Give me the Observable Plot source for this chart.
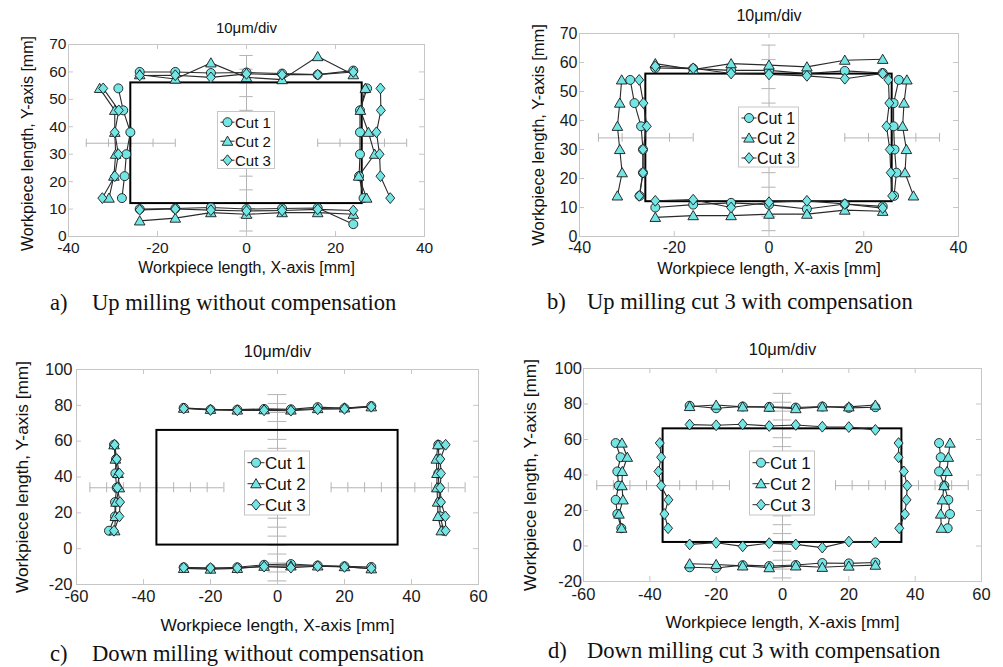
<!DOCTYPE html>
<html><head><meta charset="utf-8">
<script src="https://cdn.jsdelivr.net/npm/d3@7"></script>
<script src="https://cdn.jsdelivr.net/npm/@observablehq/plot@0.6"></script>
<style>
body{margin:0;background:#fff;}
#wrap{position:relative;width:1003px;height:667px;overflow:hidden;background:#fff;font-family:"Liberation Sans",Arial,sans-serif;}
.panel{position:absolute;}
.cap{position:absolute;font-family:"Liberation Serif","Times New Roman",serif;font-size:22.6px;line-height:22px;color:#111;white-space:nowrap;}
</style></head><body><div id="wrap"></div>
<script>
const cuts = ["Cut 1", "Cut 2", "Cut 3"];
const xTopAB = [-24, -16, -8, 0, 8, 16, 24];
const ySideAB = [14, 22, 30, 38, 46, 54];
const xTopCD = [-28, -20, -12, -4, 4, 12, 20, 28];
const ySideCD = [10, 18, 26, 34, 42, 50, 58];

// a) Up milling without compensation  (rows: Cut 1, Cut 2, Cut 3)
const aTop = [[60.0, 60.0, 59.6, 59.8, 59.4, 59.0, 60.5],
              [59.0, 57.4, 63.3, 58.0, 57.2, 65.6, 59.0],
              [58.7, 58.8, 58.0, 59.3, 59.0, 59.0, 60.0]];
const aBottom = [[10.0, 10.2, 10.6, 10.0, 10.2, 10.4, 4.5],
                 [5.7, 6.7, 8.7, 8.1, 8.7, 8.7, 8.1],
                 [9.7, 10.0, 9.6, 9.3, 9.5, 9.9, 9.5]];
const aLeft = [[-28.0, -27.4, -27.0, -26.1, -27.7, -28.8],
               [-30.9, -29.8, -29.4, -29.6, -29.6, -33.0],
               [-32.4, -29.6, -28.8, -29.6, -28.7, -32.2]];
const aRight = [[26.3, 25.3, 25.5, 25.5, 25.5, 27.1],
                [27.0, 25.2, 28.8, 27.4, 25.6, 26.7],
                [32.3, 30.1, 29.9, 29.2, 30.2, 30.1]];

// b) Up milling cut 3 with compensation
const bTop = [[58.1, 57.9, 57.3, 57.3, 56.2, 57.1, 56.4],
              [59.6, 57.6, 59.6, 59.1, 58.5, 60.8, 61.1],
              [58.7, 58.0, 56.2, 55.9, 55.4, 54.4, 56.2]];
const bBottom = [[10.0, 11.0, 11.6, 11.0, 9.5, 11.2, 10.4],
                 [6.6, 7.2, 7.2, 7.7, 7.7, 9.1, 8.7],
                 [12.3, 12.7, 10.0, 11.8, 12.3, 11.2, 9.8]];
const bLeft = [[-27.3, -26.6, -26.6, -27.0, -28.4, -29.3],
               [-32.0, -31.0, -31.5, -32.0, -31.5, -31.1],
               [-27.4, -26.6, -26.6, -25.8, -26.5, -27.4]];
const bRight = [[26.4, 26.9, 26.5, 26.3, 26.3, 27.4],
                [30.5, 28.7, 29.0, 28.2, 28.5, 29.1],
                [26.0, 25.7, 25.5, 24.8, 25.4, 25.2]];

// c) Down milling without compensation
const cTop = [[78.6, 77.6, 77.6, 78.0, 77.8, 79.0, 78.4, 79.6],
              [78.4, 77.8, 77.4, 77.6, 77.4, 78.2, 78.6, 79.2],
              [78.2, 77.4, 77.2, 77.2, 77.0, 77.8, 78.0, 79.2]];
const cBottom = [[-10.4, -11.0, -10.4, -9.0, -8.6, -9.4, -9.8, -10.2],
                 [-11.0, -11.4, -11.0, -9.8, -9.6, -9.6, -10.0, -11.2],
                 [-10.6, -10.8, -10.8, -10.0, -10.6, -9.8, -10.2, -11.0]];
const cLeft = [[-50.3, -48.5, -48.5, -48.0, -48.4, -48.2, -48.8],
               [-48.6, -48.4, -48.2, -47.2, -47.6, -48.4, -48.8],
               [-48.8, -47.2, -47.0, -47.8, -47.2, -48.0, -48.6]];
const cRight = [[49.6, 48.6, 48.4, 48.2, 48.0, 48.2, 48.0],
                [48.9, 47.9, 47.8, 47.6, 47.6, 47.4, 47.9],
                [50.2, 50.1, 48.8, 48.6, 48.8, 48.6, 50.2]];

// d) Down milling cut 3 with compensation
const dTop = [[79.0, 77.6, 78.6, 78.4, 78.0, 78.6, 77.8, 78.2],
              [78.6, 79.4, 78.4, 78.2, 77.4, 78.4, 78.4, 79.4],
              [68.4, 68.0, 68.6, 67.6, 68.2, 67.2, 67.0, 65.4]];
const dBottom = [[-12.0, -12.4, -10.8, -11.3, -10.7, -9.6, -9.8, -9.3],
                 [-10.0, -10.4, -11.2, -12.2, -11.2, -12.0, -11.3, -10.8],
                 [0.9, 1.8, -0.2, 1.6, 0.9, -0.9, 2.5, 2.0]];
const dLeft = [[-48.6, -49.8, -50.3, -49.4, -49.8, -48.8, -50.3],
               [-48.5, -49.3, -48.1, -48.4, -48.3, -46.8, -48.4],
               [-34.5, -35.6, -34.4, -36.6, -37.4, -36.6, -37.0]];
const dRight = [[49.8, 50.5, 50.0, 48.8, 47.2, 47.7, 47.2],
                [47.9, 47.7, 48.2, 48.7, 49.6, 50.0, 50.5],
                [35.2, 36.9, 37.4, 37.6, 36.6, 35.0, 35.0]];

// nominal workpiece outlines [x1, x2, y1, y2]
const rectAB = [-26, 26, 12, 56];
const rectCD = [-36, 36, 2, 66];

// axis ticks
const xTicksAB = [-40, -20, 0, 20, 40];
const yTicksAB = [0, 10, 20, 30, 40, 50, 60, 70];
const xTicksCD = [-60, -40, -20, 0, 20, 40, 60];
const yTicksCD = [-20, 0, 20, 40, 60, 80, 100];

// 10 µm/div scale rulers
const vRulerAB = [2, 66];
const vRulerTicksAB = [2, 7, 12, 17, 22, 46, 51, 56, 61, 66];
const hRulerAB = [[-36, -16], [16, 36]];
const hRulerTicksAB = [-36, -31, -26, -21, -16, 16, 21, 26, 31, 36];
const vRulerCD = [-18, 86];
const vRulerTicksCD = [-18, -13, -8, -3, 2, 7, 12, 17, 22, 46, 51, 56, 61, 66, 71, 76, 81, 86];
const hRulerCD = [[-56, -16], [16, 56]];
const hRulerTicksCD = [-56, -51, -46, -41, -36, -31, -26, -21, -16, 16, 21, 26, 31, 36, 41, 46, 51, 56];
const rulerY = 34;

const titleText = "10\u03BCm/div";
const xLabel = "Workpiece length, X-axis [mm]";
const yLabel = "Workpiece length, Y-axis [mm]";

const CYAN = "#74e5e5";
const FONT = "'Liberation Sans', Arial, sans-serif";
const GRAY = "#c6c6c6";
const RGRAY = "#b4b4b4";

const BASE = Math.PI * 4.5 * 4.5;
const symCircle = d3.symbolCircle;
const symTri = {draw(ctx, size) {
  const k = Math.sqrt(size / BASE), s = 10.6 * k, h = s * Math.sqrt(3) / 2;
  ctx.moveTo(0, -h / 2 - 0.5 * k); ctx.lineTo(s / 2, h / 2 - 0.5 * k); ctx.lineTo(-s / 2, h / 2 - 0.5 * k); ctx.closePath();
}};
const symDia = {draw(ctx, size) {
  const k = Math.sqrt(size / BASE), a = 4.5 * k, b = 5.4 * k;
  ctx.moveTo(0, -b); ctx.lineTo(a, 0); ctx.lineTo(0, b); ctx.lineTo(-a, 0); ctx.closePath();
}};
const syms = [symCircle, symTri, symDia];

function buildData(top, bottom, left, right, xs, ys) {
  const out = [];
  cuts.forEach((c, k) => {
    xs.forEach((x, i) => out.push({cut: c, side: "top", x, y: top[k][i]}));
    xs.forEach((x, i) => out.push({cut: c, side: "bottom", x, y: bottom[k][i]}));
    ys.forEach((y, i) => out.push({cut: c, side: "left", x: left[k][i], y}));
    ys.forEach((y, i) => out.push({cut: c, side: "right", x: right[k][i], y}));
  });
  return out;
}

function makePanel(cfg) {
  const fw = cfg.W - cfg.mL - cfg.mR, fh = cfg.H - cfg.mT - cfg.mB;
  const r = cfg.rect;
  const plot = Plot.plot({
    width: cfg.W, height: cfg.H,
    marginLeft: cfg.mL, marginRight: cfg.mR, marginTop: cfg.mT, marginBottom: cfg.mB,
    x: {domain: [cfg.xTicks[0], cfg.xTicks[cfg.xTicks.length - 1]]},
    y: {domain: [cfg.yTicks[0], cfg.yTicks[cfg.yTicks.length - 1]]},
    symbol: {domain: cuts, range: syms},
    style: {fontFamily: FONT, fontSize: cfg.fsTick + "px", color: "#1a1a1a", background: "transparent", overflow: "visible"},
    marks: [
      Plot.frame({stroke: GRAY}),
      Plot.ruleX(cfg.xTicks, {x: d => d, insetTop: fh - 5, stroke: GRAY}),
      Plot.ruleX(cfg.xTicks, {x: d => d, insetBottom: fh - 5, stroke: GRAY}),
      Plot.ruleY(cfg.yTicks, {y: d => d, insetRight: fw - 5, stroke: GRAY}),
      Plot.ruleY(cfg.yTicks, {y: d => d, insetLeft: fw - 5, stroke: GRAY}),
      Plot.axisX({ticks: cfg.xTicks, tickSize: 0, tickPadding: cfg.padX, tickFormat: d => String(d), label: null}),
      Plot.axisY({ticks: cfg.yTicks, tickSize: 0, tickPadding: cfg.padY, tickFormat: d => String(d), label: null}),
      // scale rulers
      Plot.ruleX([0], {x: d => d, y1: cfg.vRuler[0], y2: cfg.vRuler[1], stroke: RGRAY}),
      Plot.ruleY(cfg.vTicks, {y: d => d, x1: -cfg.vHalf, x2: cfg.vHalf, stroke: RGRAY}),
      Plot.ruleY(cfg.hRuler, {y: () => rulerY, x1: d => d[0], x2: d => d[1], stroke: RGRAY}),
      Plot.ruleX(cfg.hTicks, {x: d => d, y1: rulerY - cfg.hHalf, y2: rulerY + cfg.hHalf, stroke: RGRAY}),
      // nominal outline
      Plot.rect([r], {x1: d => d[0], x2: d => d[1], y1: d => d[2], y2: d => d[3], fill: "none", stroke: "#000", strokeWidth: 2}),
      // measured profiles
      Plot.line(cfg.data, {x: "x", y: "y", z: d => d.cut + d.side, stroke: "#2a2a2a", strokeWidth: 1.1}),
      Plot.dot(cfg.data, {x: "x", y: "y", symbol: "cut", r: 4.5, fill: CYAN, stroke: "#1a1a1a", strokeWidth: 0.9}),
      // texts
      Plot.text([titleText], {text: d => d, frameAnchor: "top", lineAnchor: "middle", textAnchor: "middle", dy: cfg.titleDy, fontSize: cfg.fsTitle, fill: "#111"}),
      Plot.text([xLabel], {text: d => d, frameAnchor: "bottom", lineAnchor: "middle", textAnchor: "middle", dy: cfg.xlDy, fontSize: cfg.fsLabel, fill: "#111"}),
      Plot.text([yLabel], {text: d => d, frameAnchor: "left", lineAnchor: "middle", textAnchor: "middle", rotate: -90, dx: cfg.ylDx, dy: cfg.ylDy, fontSize: cfg.fsLabel, fill: "#111"})
    ]
  });
  // legend box in the middle of the frame
  const L = cfg.leg;
  const cx = cfg.mL + fw / 2, cy = cfg.mT + fh / 2 + L.off;
  const g = d3.select(plot).append("g").attr("font-family", FONT).attr("text-anchor", "start");
  const x0 = cx - L.w / 2, y0 = cy - L.h / 2;
  g.append("rect").attr("x", x0).attr("y", y0).attr("width", L.w).attr("height", L.h)
    .attr("fill", "#fff").attr("stroke", GRAY);
  cuts.forEach((c, i) => {
    const y = y0 + L.row0 + i * L.gap;
    g.append("line").attr("x1", x0 + 3).attr("x2", x0 + L.lineEnd).attr("y1", y).attr("y2", y).attr("stroke", "#2a2a2a");
    g.append("path").attr("d", d3.symbol(syms[i], BASE)()).attr("transform", `translate(${x0 + L.mk},${y})`)
      .attr("fill", CYAN).attr("stroke", "#1a1a1a").attr("stroke-width", 0.9);
    g.append("text").attr("x", x0 + L.tx).attr("y", y).attr("dy", "0.36em").attr("text-anchor", "start")
      .attr("font-size", L.fs).attr("fill", "#111").text(c);
  });
  const div = document.createElement("div");
  div.className = "panel";
  div.style.left = cfg.left + "px";
  div.style.top = cfg.top + "px";
  div.appendChild(plot);
  document.getElementById("wrap").appendChild(div);
}

function caption(label, text, lx, tx, cy) {
  const wrap = document.getElementById("wrap");
  const a = document.createElement("div"); a.className = "cap"; a.textContent = label;
  a.style.left = lx + "px"; a.style.top = (cy - 12) + "px";
  const b = document.createElement("div"); b.className = "cap"; b.textContent = text;
  b.style.left = tx + "px"; b.style.top = (cy - 12) + "px";
  wrap.appendChild(a); wrap.appendChild(b);
}

const legSmall = {w: 57, h: 57, row0: 10.7, gap: 19, lineEnd: 17, mk: 10, tx: 17.5, fs: 15};
const legB = {w: 60, h: 60, row0: 11, gap: 20, lineEnd: 18, mk: 10.5, tx: 18.5, fs: 16};
const legBig = {w: 65, h: 64, row0: 11.7, gap: 21, lineEnd: 20, mk: 11.5, tx: 20.5, fs: 17};

makePanel({left: 0, top: 0, W: 500, H: 330, mL: 68, mR: 76, mT: 44, mB: 94,
  xTicks: xTicksAB, yTicks: yTicksAB, rect: rectAB,
  data: buildData(aTop, aBottom, aLeft, aRight, xTopAB, ySideAB),
  vRuler: vRulerAB, vTicks: vRulerTicksAB, vHalf: 1.5, hRuler: hRulerAB, hTicks: hRulerTicksAB, hHalf: 1.5,
  fsTick: 15.5, fsTitle: 15, fsLabel: 16, padX: 5, padY: 2,
  titleDy: -16, xlDy: 31, ylDx: -41, ylDy: 3, leg: {...legSmall, off: 0}});

makePanel({left: 500, top: 0, W: 503, H: 330, mL: 79, mR: 45, mT: 33, mB: 94,
  xTicks: xTicksAB, yTicks: yTicksAB, rect: rectAB,
  data: buildData(bTop, bBottom, bLeft, bRight, xTopAB, ySideAB),
  vRuler: vRulerAB, vTicks: vRulerTicksAB, vHalf: 1.5, hRuler: hRulerAB, hTicks: hRulerTicksAB, hHalf: 1.5,
  fsTick: 16, fsTitle: 16, fsLabel: 16.5, padX: 5.5, padY: 2,
  titleDy: -18, xlDy: 32, ylDx: -41, ylDy: 0, leg: {...legB, off: 2.5}});

makePanel({left: 0, top: 330, W: 500, H: 337, mL: 76, mR: 22, mT: 39, mB: 83,
  xTicks: xTicksCD, yTicks: yTicksCD, rect: rectCD,
  data: buildData(cTop, cBottom, cLeft, cRight, xTopCD, ySideCD),
  vRuler: vRulerCD, vTicks: vRulerTicksCD, vHalf: 2.8, hRuler: hRulerCD, hTicks: hRulerTicksCD, hHalf: 2.8,
  fsTick: 16.5, fsTitle: 16.5, fsLabel: 17.3, padX: 6, padY: 4,
  titleDy: -18, xlDy: 41, ylDx: -54, ylDy: 0, leg: {...legBig, off: 6.5}});

makePanel({left: 500, top: 330, W: 503, H: 337, mL: 83, mR: 22, mT: 38, mB: 86,
  xTicks: xTicksCD, yTicks: yTicksCD, rect: rectCD,
  data: buildData(dTop, dBottom, dLeft, dRight, xTopCD, ySideCD),
  vRuler: vRulerCD, vTicks: vRulerTicksCD, vHalf: 2.8, hRuler: hRulerCD, hTicks: hRulerTicksCD, hHalf: 2.8,
  fsTick: 16.5, fsTitle: 16.5, fsLabel: 17.3, padX: 6.5, padY: 1.5,
  titleDy: -19, xlDy: 41, ylDx: -53, ylDy: 0, leg: {...legBig, off: 8.5}});

caption("a)", "Up milling without compensation", 50, 92, 304);
caption("b)", "Up milling cut 3 with compensation", 547, 587, 303);
caption("c)", "Down milling without compensation", 50, 92, 655);
caption("d)", "Down milling cut 3 with compensation", 548, 587, 652);
</script></body></html>
